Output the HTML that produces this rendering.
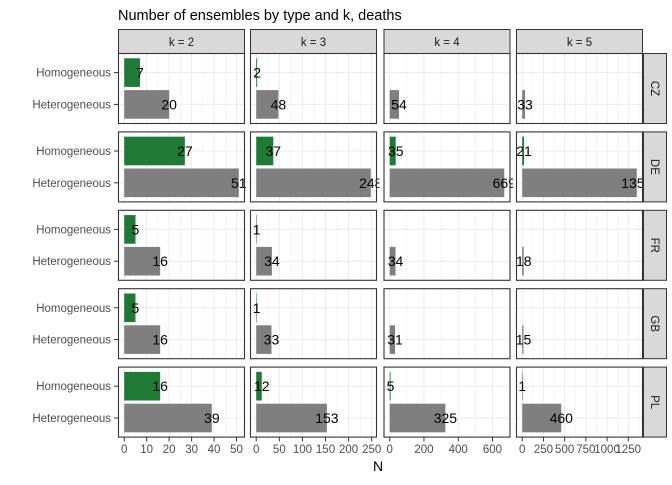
<!DOCTYPE html>
<html><head><meta charset="utf-8"><style>
body{margin:0;background:#fff;font-family:"Liberation Sans",sans-serif;}
svg text{font-family:"Liberation Sans",sans-serif;}
</style></head><body>
<svg id="c" width="672" height="480" xmlns="http://www.w3.org/2000/svg">
<text x="118" y="20" font-size="14.5" fill="#000">Number of ensembles by type and k, deaths</text>
<text x="378" y="471" font-size="14" fill="#000" text-anchor="middle">N</text>
</svg>
<script>
const countries=["CZ","DE","FR","GB","PL"];
const kLabels=["k = 2","k = 3","k = 4","k = 5"];
const types=["Homogeneous","Heterogeneous"];
// homogeneous[country][k]; null = no ensembles
const homogeneous=[[7,2,null,null],[27,37,35,21],[5,1,null,null],[5,1,null,null],[16,12,5,1]];
const heterogeneous=[[20,48,54,33],[51,248,669,1350],[16,34,34,18],[16,33,31,15],[39,153,325,460]];
const ticks=[[0,10,20,30,40,50],[0,50,100,150,200,250],[0,200,400,600],[0,250,500,750,1000,1250]];
const NS="http://www.w3.org/2000/svg";
const svg=document.getElementById('c');
function el(t,a,p){const e=document.createElementNS(NS,t);for(const k in a)e.setAttribute(k,a[k]);(p||svg).appendChild(e);return e;}
const defs=el('defs',{});
const colL=[118.5,250.5,384,516.5], pw=126, rowT=[53.5,131.9,210.3,288.7,367.1], ph=70;
for(let c=0;c<4;c++){
  let M=0;for(let r=0;r<5;r++)M=Math.max(M,homogeneous[r][c]||0,heterogeneous[r][c]||0);
  const lo=-0.05*M,hi=1.05*M;
  const xs=v=>colL[c]+(v-lo)/(hi-lo)*pw;
  const st=el('rect',{x:colL[c],y:29.5,width:pw,height:24,fill:'#d9d9d9',stroke:'#333','stroke-width':1});
  
  const stt=el('text',{x:colL[c]+pw/2,y:46,'font-size':'11.5',fill:'#1a1a1a','text-anchor':'middle'});stt.textContent=kLabels[c];
  
  const step=ticks[c][1]-ticks[c][0];
  for(let r=0;r<5;r++){
    const T=rowT[r];
    const cid='clip'+r+'_'+c, lid='lclip'+r+'_'+c;
    const cp=el('clipPath',{id:cid},defs);el('rect',{x:colL[c],y:T,width:pw,height:ph},cp);
    const lp=el('clipPath',{id:lid},defs);el('rect',{x:colL[c]-6,y:T,width:pw+9,height:ph},lp);
    const ys=u=>T+ph-(u-0.4)/2.2*ph;
    const g=el('g',{'clip-path':'url(#'+cid+')'});
    const lg=el('g',{'clip-path':'url(#'+lid+')'});
    el('rect',{x:colL[c],y:T,width:pw,height:ph,fill:'#fff'},g);
    for(let v=ticks[c][0]-step/2;v<=hi;v+=step/2){
      if(v<lo)continue;const x=xs(v);
      el('line',{x1:x,x2:x,y1:T,y2:T+ph,stroke:'#ebebeb','stroke-width':(Math.abs((v/step)%1)<1e-9)?1:0.5},g);
    }
    [1,2].forEach(u=>el('line',{x1:colL[c],x2:colL[c]+pw,y1:ys(u),y2:ys(u),stroke:'#ebebeb','stroke-width':1},g));
    [[heterogeneous[r][c],1,'#7f7f7f','heterogeneous'],[homogeneous[r][c],2,'#1f7a35','homogeneous']].forEach(([v,u,col,nm])=>{
      if(v===null||v===undefined)return;
      const b=el('rect',{x:xs(0),y:ys(u)-0.45/2.2*ph,width:Math.max(xs(v)-xs(0),0.5),height:0.9/2.2*ph,fill:col},g);
      
      const t=el('text',{x:xs(v),y:ys(u)+5,'font-size':'14',fill:'#000','text-anchor':'middle'},lg);t.textContent=v;
      
    });
    el('rect',{x:colL[c],y:T,width:pw,height:ph,fill:'none',stroke:'#333','stroke-width':1.1});
    if(c===0){
      types.forEach((tp,i)=>{const y=ys(2-i);
        el('line',{x1:114,x2:118,y1:y,y2:y,stroke:'#333'});
        const t=el('text',{x:111,y:y+4,'font-size':'11.5',fill:'#4d4d4d','text-anchor':'end'});t.textContent=tp;
        });
    }
  }
  ticks[c].forEach(v=>{const x=xs(v);
    el('line',{x1:x,x2:x,y1:437.5,y2:441.5,stroke:'#333'});
    const t=el('text',{x:x,y:453,'font-size':'11.5',fill:'#4d4d4d','text-anchor':'middle'});t.textContent=v;
    });
}
for(let r=0;r<5;r++){
  const T=rowT[r];
  const s=el('rect',{x:643.5,y:T,width:23,height:ph,fill:'#d9d9d9',stroke:'#333','stroke-width':1});
  
  const t=el('text',{x:0,y:0,'font-size':'11.5',fill:'#1a1a1a','text-anchor':'middle',transform:`translate(651,${T+ph/2}) rotate(90)`});t.textContent=countries[r];
  
}
</script>
</body></html>
